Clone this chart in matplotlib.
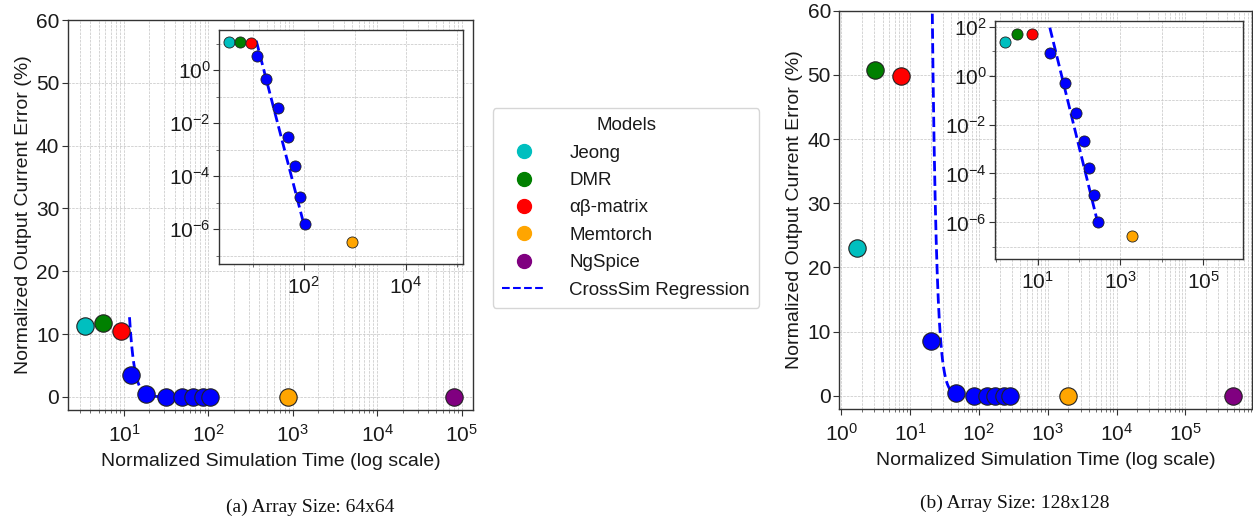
import numpy as np
import matplotlib
matplotlib.use("Agg")
import matplotlib.pyplot as plt
from matplotlib.lines import Line2D
from matplotlib.ticker import LogLocator, NullFormatter

plt.rcParams["font.family"] = ["Liberation Sans", "DejaVu Sans"]
plt.rcParams["mathtext.fontset"] = "custom"
plt.rcParams["mathtext.rm"] = "Liberation Sans"
plt.rcParams["mathtext.it"] = "Liberation Sans:italic"
plt.rcParams["mathtext.bf"] = "Liberation Sans:bold"

# ---------------- data ----------------
model_names = ["Jeong", "DMR", "αβ-matrix", "Memtorch", "NgSpice"]
model_colors = ["#00BFBF", "#008000", "#FF0000", "#FFA500", "#800080"]
crosssim_color = "#0000FF"

# 64x64 array: (simulation time, error %) for each reference model
time_64 = [3.45, 5.6, 9.1, 880.0, 8.1e4]
error_64 = [11.3, 11.7, 10.5, 3.2e-7, 0.0]
# CrossSim runs at increasing solver effort
cs_time_64 = [12.0, 18.0, 31.5, 48.0, 66.0, 85.0, 105.0]
cs_error_64 = [3.47, 0.45, 0.038, 0.0029, 2.4e-4, 1.65e-5, 1.6e-6]
# power-law fit: log10(err) = intercept + slope * log10(time)
reg_slope_64 = -7.4
reg_intercept_64 = 8.98
reg_range_64 = (11.6, 105.0)

# 128x128 array
time_128 = [1.68, 3.15, 7.5, 1950.0, 4.96e5]
error_128 = [23.0, 50.8, 49.8, 2.8e-7, 0.0]
cs_time_128 = [20.0, 46.4, 84.5, 131.0, 174.0, 229.0, 282.0]
cs_error_128 = [8.6, 0.51, 0.030, 2.1e-3, 1.7e-4, 1.26e-5, 1.06e-6]
reg_slope_128 = -6.9
reg_intercept_128 = 10.907
reg_range_128 = (19.8, 270.0)

captions = ["(a) Array Size: 64x64", "(b) Array Size: 128x128"]

W, H = 1253, 521
fig = plt.figure(figsize=(W / 100, H / 100), dpi=100)


def box(x0, y0, x1, y1):
    return [x0 / W, 1 - y1 / H, (x1 - x0) / W, (y1 - y0) / H]


text_color = "#1a1a1a"
grid_kw = dict(color="#c4c4c4", linestyle="--", linewidth=0.5)
TICK_FS = 15
LABEL_FS = 14


def style_axes(ax, fs=TICK_FS):
    for s in ax.spines.values():
        s.set_color("#333333")
        s.set_linewidth(1.0)
    ax.tick_params(which="major", direction="out", length=4, width=0.8,
                   colors="#333333", labelsize=fs, labelcolor=text_color, pad=2)
    ax.tick_params(which="minor", direction="out", length=2.5, width=0.6,
                   colors="#555555")


def regression(slope, intercept, rng):
    xs = np.logspace(np.log10(rng[0]), np.log10(rng[1]), 300)
    return xs, 10 ** (intercept + slope * np.log10(xs))


def draw_panel(main_box, inset_box, t, e, cs_t, cs_e, reg, xlim, ylim_in,
               inset_xticks, inset_yticks, caption, cap_xy):
    ax = fig.add_axes(main_box)
    style_axes(ax)
    ax.tick_params(axis="x", which="major", pad=6)
    ax.set_xscale("log")
    ax.set_xlim(*xlim)
    ax.set_ylim(-2.1, 60)
    ax.set_yticks([0, 10, 20, 30, 40, 50, 60])
    ax.xaxis.set_major_locator(LogLocator(base=10, numticks=20))
    ax.xaxis.set_minor_locator(LogLocator(base=10, subs=np.arange(2, 10), numticks=20))
    ax.xaxis.set_minor_formatter(NullFormatter())
    ax.grid(True, which="major", axis="both", **grid_kw)
    ax.grid(True, which="minor", axis="x", **grid_kw)
    ax.set_axisbelow(True)

    rx, ry = regression(*reg)
    ax.plot(rx, ry, linestyle="--", color=crosssim_color, linewidth=2.0, zorder=2)
    ax.plot(cs_t, [v if v > 1e-3 else 0.0 for v in cs_e], linestyle="none",
            marker="o", markersize=12.5, markerfacecolor=crosssim_color,
            markeredgecolor="#222222", markeredgewidth=0.8, zorder=3)
    for ti, ei, c in zip(t, e, model_colors):
        ax.plot([ti], [ei if ei > 1e-3 else 0.0], linestyle="none", marker="o",
                markersize=12.5, markerfacecolor=c, markeredgecolor="#222222",
                markeredgewidth=0.8, zorder=3)
    ax.set_xlabel("Normalized Simulation Time (log scale)", fontsize=LABEL_FS,
                  color=text_color, labelpad=5)
    ax.set_ylabel("Normalized Output Current Error (%)", fontsize=LABEL_FS,
                  color=text_color, labelpad=3)

    # log-log inset
    ins = fig.add_axes(inset_box)
    style_axes(ins)
    ins.tick_params(axis="x", which="major", pad=4)
    ins.set_xscale("log")
    ins.set_yscale("log")
    ins.set_xlim(*xlim)
    ins.set_ylim(*ylim_in)
    ins.set_xticks(inset_xticks)
    ins.set_yticks(inset_yticks)
    ins.xaxis.set_minor_locator(LogLocator(base=10, subs=[1.0], numticks=20))
    ins.yaxis.set_minor_locator(LogLocator(base=10, subs=[1.0], numticks=20))
    ins.xaxis.set_minor_formatter(NullFormatter())
    ins.yaxis.set_minor_formatter(NullFormatter())
    ins.grid(True, which="both", **grid_kw)
    ins.set_axisbelow(True)
    ins.plot(rx, ry, linestyle="--", color=crosssim_color, linewidth=2.0, zorder=2)
    ins.plot(cs_t, cs_e, linestyle="none", marker="o", markersize=8,
             markerfacecolor=crosssim_color, markeredgecolor="#222222",
             markeredgewidth=0.6, zorder=3)
    for ti, ei, c in zip(t, e, model_colors):
        if ei > 0:
            ins.plot([ti], [ei], linestyle="none", marker="o", markersize=8,
                     markerfacecolor=c, markeredgecolor="#222222",
                     markeredgewidth=0.6, zorder=3)

    fig.text(cap_xy[0] / W, 1 - cap_xy[1] / H, caption, ha="center", va="center",
             fontsize=14, family="Liberation Serif", color="#111111")
    return ax


draw_panel(box(67.7, 20, 473, 410), box(219, 30, 463.3, 264.3),
           time_64, error_64, cs_time_64, cs_error_64,
           (reg_slope_64, reg_intercept_64, reg_range_64),
           (2.15, 1.36e5), (10 ** -7.33, 10 ** 1.51),
           [1e2, 1e4], [1e-6, 1e-4, 1e-2, 1e0],
           captions[0], (310, 507))

draw_panel(box(839.3, 10.7, 1252.0, 409.3), box(995, 21, 1243.3, 259.3),
           time_128, error_128, cs_time_128, cs_error_128,
           (reg_slope_128, reg_intercept_128, reg_range_128),
           (0.94, 9.25e5), (10 ** -7.51, 10 ** 2.233),
           [1e1, 1e3, 1e5], [1e-6, 1e-4, 1e-2, 1e0, 1e2],
           captions[1], (1015, 503))

# shared legend
handles = [Line2D([], [], linestyle="none", marker="o", markersize=10,
                  markerfacecolor=c, markeredgecolor=c) for c in model_colors]
handles.append(Line2D([], [], linestyle="--", color=crosssim_color, linewidth=1.5))
labels = model_names + ["CrossSim Regression"]
leg = fig.legend(handles, labels, title="Models", loc="center",
                 bbox_to_anchor=(626 / W, 1 - 208 / H), fontsize=13.5,
                 title_fontsize=13.5, frameon=True, labelspacing=0.55,
                 handlelength=2.3, handletextpad=1.3, borderpad=0.5)
leg.get_frame().set_edgecolor("#cccccc")
for txt in leg.get_texts():
    txt.set_color(text_color)
leg.get_title().set_color(text_color)

fig.savefig("out.png", dpi=100)
